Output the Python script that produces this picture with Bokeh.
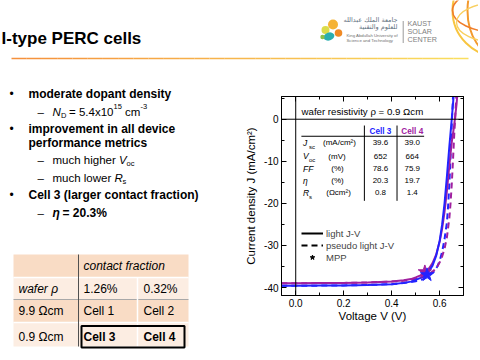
import numpy as np
from bokeh.plotting import figure
from bokeh.models import (Range1d, Label, Span, LinearAxis, SingleIntervalTicker,
                          PrintfTickFormatter, Legend, LegendItem)
from bokeh.layouts import column, row
from bokeh.embed import file_html
from bokeh.resources import INLINE

FONT = "Liberation Sans"
BLUE = "#2323ff"
PURPLE = "#a0209f"
NAN = float("nan")

# ---------------- chart data ----------------
c3_light_v = [-0.06, 0.0, 0.1, 0.2, 0.3, 0.4, 0.45, 0.48, 0.50, 0.52, 0.54, 0.555, 0.57, 0.585, 0.60, 0.61, 0.62, 0.63, 0.64, 0.65, 0.66]
c3_light_j = [-39.6, -39.6, -39.55, -39.5, -39.4, -39.2, -38.9, -38.6, -38.2, -37.7, -37.0, -36.1, -34.8, -32.5, -28.8, -25.0, -20.0, -13.5, -6.5, 0.0, 7.0]

c4_light_v = [-0.06, 0.0, 0.1, 0.2, 0.3, 0.4, 0.45, 0.48, 0.50, 0.52, 0.54, 0.555, 0.57, 0.585, 0.60, 0.61, 0.62, 0.63, 0.64, 0.65, 0.66, 0.67, 0.675]
c4_light_j = [-39.0, -39.0, -38.95, -38.9, -38.8, -38.6, -38.3, -38.0, -37.6, -37.1, -36.3, -35.5, -34.2, -32.2, -29.0, -26.0, -22.0, -17.0, -11.0, -5.5, -1.5, 3.5, 7.0]

c3_pseudo_v = [-0.06, 0.0, 0.1, 0.2, 0.3, 0.4, 0.45, 0.50, 0.53, 0.555, 0.575, 0.59, 0.60, 0.61, 0.62, 0.63, 0.635, 0.64, 0.645, 0.65, 0.655, 0.66]
c3_pseudo_j = [-39.6, -39.6, -39.55, -39.5, -39.4, -39.2, -38.95, -38.5, -38.0, -37.3, -36.3, -35.0, -33.6, -31.5, -28.5, -24.5, -20.5, -15.5, -9.0, -1.5, 5.0, 12.0]

c4_pseudo_v = [-0.06, 0.0, 0.1, 0.2, 0.3, 0.4, 0.45, 0.50, 0.53, 0.555, 0.575, 0.59, 0.60, 0.61, 0.62, 0.63, 0.64, 0.645, 0.65, 0.655, 0.66, 0.665, 0.67]
c4_pseudo_j = [-39.0, -39.0, -38.95, -38.9, -38.8, -38.6, -38.4, -37.9, -37.5, -36.8, -36.0, -35.0, -34.0, -32.6, -30.8, -28.0, -23.5, -20.0, -15.5, -10.0, -4.0, 1.0, 7.0]

mpp_c3_v, mpp_c3_j = [0.547], [-37.0]
mpp_c4_v, mpp_c4_j = [0.538], [-36.3]

stat_symbols = ["J", "V", "FF", "η", "R"]
stat_subs = ["sc", "oc", "", "", "s"]
stat_units = ["(mA/cm²)", "(mV)", "(%)", "(%)", "(Ωcm²)"]
cell_names = ["Cell 3", "Cell 4"]
cell3_vals = ["39.6", "652", "78.6", "20.3", "0.8"]
cell4_vals = ["39.0", "664", "75.9", "19.7", "1.4"]

legend_labels = ["light J-V", "pseudo light J-V", "MPP"]

# slide table
table_header = "contact fraction"
table_rows = [["wafer ρ", "1.26%", "0.32%"],
              ["9.9 Ωcm", "Cell 1", "Cell 2"],
              ["0.9 Ωcm", "Cell 3", "Cell 4"]]


def lab(f, x, y, text, size, style="normal", color="#000000", align="left",
        baseline="middle", font=FONT):
    f.add_layout(Label(x=x, y=y, text=text, text_font_size=f"{size}px",
                       text_font_style=style, text_color=color, text_align=align,
                       text_baseline=baseline, text_font=font))


def slide_fig(w, h, x0, x1, ytop, ybot):
    f = figure(width=w, height=h, x_range=Range1d(x0, x1), y_range=Range1d(ybot, ytop),
               x_axis_type=None, y_axis_type=None, output_backend="svg",
               toolbar_location=None, min_border=0, min_border_left=0,
               min_border_right=0, min_border_top=0, min_border_bottom=0,
               frame_align=False)
    f.grid.visible = False
    f.outline_line_color = None
    f.background_fill_color = "white"
    f.border_fill_color = "white"
    return f

W, H = 478, 358
# ---------------- banner ----------------
banner = slide_fig(W, 63, 0, W, 0, 63)
lab(banner, 1, 37.5, "I-type PERC cells", 17, "bold")

n = 30
xs = np.linspace(11, 468, n + 1)
c0, c1 = np.array([245, 145, 60]), np.array([250, 222, 95])
cols = ["#%02x%02x%02x" % tuple(int(v) for v in (c0 + (c1 - c0) * t)) for t in np.linspace(0, 1, n)]
banner.segment(x0=xs[:-1], y0=58, x1=xs[1:], y1=58, line_color=cols, line_width=1.6)

# logo dots
banner.circle(x=[332.5], y=[24], radius=5, fill_color="#f5b335", line_color=None)
banner.circle(x=[325], y=[29.5], radius=4, fill_color="#dcdc4a", line_color=None)
banner.ellipse(x=[328.5], y=[36], width=11, height=8, angle=0.3, fill_color="#2aaeb0", line_color=None)
banner.circle(x=[338], y=[32.5], radius=3.8, fill_color="#f08a24", line_color=None)
banner.circle(x=[322], y=[36.5], radius=2.2, fill_color="#8cc04a", line_color=None)
lab(banner, 397, 19.5, "جامعة الملك عبدالله", 6.5, color="#607080", align="right", font="DejaVu Sans")
lab(banner, 397, 26, "للعلوم والتقنية", 6.5, color="#607080", align="right", font="DejaVu Sans")
lab(banner, 346, 34.5, "King Abdullah University of", 4.3, color="#707070")
lab(banner, 346, 39.5, "Science and Technology", 4.3, color="#707070")
banner.segment(x0=[402.7], y0=[20.5], x1=[402.7], y1=[42.5], line_color="#9a9a9a", line_width=1)
lab(banner, 407, 23, "KAUST", 7.2, color="#808080")
lab(banner, 407, 31, "SOLAR", 7.2, color="#808080")
lab(banner, 407, 39, "CENTER", 7.2, color="#808080")
# globe
banner.ellipse(x=[498], y=[10], width=92, height=92, fill_color=None, line_color="#f8c540", line_width=2)
banner.ellipse(x=[498], y=[10], width=62, height=92, fill_color=None, line_color="#f39a2e", line_width=2)
banner.ellipse(x=[498], y=[10], width=30, height=92, fill_color=None, line_color="#e8532b", line_width=2)
banner.ellipse(x=[498], y=[10], width=92, height=44, fill_color=None, line_color="#f07d2a", line_width=1.6)
banner.ellipse(x=[498], y=[22], width=84, height=40, fill_color=None, line_color="#f9d060", line_width=1.4)

# ---------------- left side ----------------
LW = 242
left = slide_fig(LW, H - 63, 0, LW, 63, H)
B, R = 12, 11.5
lab(left, 9, 93, "•", B)
lab(left, 28, 93, "moderate dopant density", B, "bold")
lab(left, 37, 111, "–", R)
lab(left, 52, 111, "N", R, "italic")
lab(left, 60.5, 114.5, "D", 7.5)
lab(left, 68.5, 111, "= 5.4x10", R)
lab(left, 113, 106, "15", 7.5)
lab(left, 124.5, 111, "cm", R)
lab(left, 140, 106, "-3", 7.5)
lab(left, 9, 128, "•", B)
lab(left, 28, 128, "improvement in all device", B, "bold")
lab(left, 28, 142, "performance metrics", B, "bold")
lab(left, 37, 159, "–", R)
lab(left, 52, 159, "much higher", R)
lab(left, 118.5, 159, "V", R, "italic")
lab(left, 126, 162.5, "oc", 7.5)
lab(left, 37, 177, "–", R)
lab(left, 52, 177, "much lower", R)
lab(left, 114, 177, "R", R, "italic")
lab(left, 122, 180.5, "s", 7.5)
lab(left, 9, 194, "•", B)
lab(left, 28, 194, "Cell 3 (larger contact fraction)", B, "bold")
lab(left, 37, 212, "–", R)
lab(left, 52, 212, "η", B, "bold italic")
lab(left, 62, 212, "= 20.3%", B, "bold")

# table
TA, TB = "#f9dcc5", "#fcede2"
row_edges = [254, 277, 299, 322, 346]
left.quad(left=[13] * 4, right=[188] * 4, top=row_edges[:-1], bottom=row_edges[1:],
          fill_color=[TA, TB, TA, TB], line_color=None)
left.segment(x0=[13, 13, 13], y0=[277, 299, 322], x1=[188, 188, 188], y1=[277, 299, 322],
             line_color=["white", "#a8a8a8", "white"], line_width=[1.5, 1, 1.5])
left.segment(x0=[78, 137], y0=[254, 277], x1=[78, 137], y1=[346, 346],
             line_color=["#505050", "white"], line_width=[1, 1.5])
left.quad(left=[81], right=[184], top=[325.5], bottom=[347], fill_color=None,
          line_color="black", line_width=2)
TF = 12
lab(left, 83, 265.5, table_header, TF, "italic")
row_ys = [288, 310.5, 336]
col_xs = [18, 83, 143]
for ri, (ry, vals) in enumerate(zip(row_ys, table_rows)):
    for ci, (cx, t) in enumerate(zip(col_xs, vals)):
        style = "normal"
        if ri == 0 and ci == 0:
            style = "italic"
        if ri == 2 and ci > 0:
            style = "bold"
        lab(left, cx, ry, t, TF, style)

# ---------------- chart ----------------
chart = figure(width=W - LW, height=H - 63, x_range=Range1d(-0.0593, 0.699), y_range=Range1d(-41.9, 5.4),
               output_backend="svg", toolbar_location=None, frame_align=False,
               min_border_left=38, min_border_right=W - 463, min_border_top=33, min_border_bottom=H - 295)
chart.grid.visible = False
chart.outline_line_color = "black"
chart.background_fill_color = "white"
chart.border_fill_color = "white"

chart.xaxis.ticker = SingleIntervalTicker(interval=0.2, num_minor_ticks=2)
chart.yaxis.ticker = SingleIntervalTicker(interval=10, num_minor_ticks=2)
chart.xaxis.formatter = PrintfTickFormatter(format="%.1f")
chart.yaxis.formatter = PrintfTickFormatter(format="%d")
chart.xaxis.axis_label = "Voltage V (V)"
chart.yaxis.axis_label = "Current density J (mA/cm²)"
for ax in (chart.xaxis[0], chart.yaxis[0]):
    ax.major_tick_in = 5
    ax.major_tick_out = 0
    ax.minor_tick_in = 3
    ax.minor_tick_out = 0
    ax.axis_line_color = "black"
    ax.major_tick_line_color = "black"
    ax.minor_tick_line_color = "black"
    ax.major_label_text_font = FONT
    ax.major_label_text_font_size = "10px"
    ax.major_label_text_color = "black"
    ax.major_label_standoff = 3
    ax.axis_label_text_font = FONT
    ax.axis_label_text_font_size = "11.5px"
    ax.axis_label_text_font_style = "normal"
    ax.axis_label_text_color = "black"
chart.xaxis.axis_label_standoff = 0
chart.yaxis.axis_label_standoff = 4

for place, tk in (("above", SingleIntervalTicker(interval=0.2, num_minor_ticks=2)),
                  ("right", SingleIntervalTicker(interval=10, num_minor_ticks=2))):
    ax = LinearAxis(ticker=tk, major_tick_in=5, major_tick_out=0, minor_tick_in=3,
                    minor_tick_out=0, major_label_text_font_size="0px", major_label_standoff=0,
                    major_label_text_alpha=0, major_label_text_color=None,
                    axis_line_color="black")
    chart.add_layout(ax, place)

chart.add_layout(Span(location=0, dimension="width", line_color="black", line_width=1))
chart.add_layout(Span(location=0, dimension="height", line_color="black", line_width=1))

chart.line(c3_pseudo_v, c3_pseudo_j, line_color=BLUE, line_width=2, line_dash="6 4")
chart.line(c4_pseudo_v, c4_pseudo_j, line_color=PURPLE, line_width=2, line_dash="6 4")
chart.line(c4_light_v, c4_light_j, line_color=PURPLE, line_width=2)
chart.line(c3_light_v, c3_light_j, line_color=BLUE, line_width=2)
chart.scatter(mpp_c4_v, mpp_c4_j, marker="star", size=14, color=PURPLE)
chart.scatter(mpp_c3_v, mpp_c3_j, marker="star", size=14, color=BLUE)

# annotation box
lab(chart, 0.024, 1.8, "wafer resistivity ρ = 0.9 Ωcm", 9.7)
chart.segment(x0=[0.0236], y0=[-4.05], x1=[0.535], y1=[-4.05], line_color="black", line_width=1)
chart.segment(x0=[0.286, 0.422], y0=[-1.5, -1.5], x1=[0.286, 0.422], y1=[-19.4, -19.4],
              line_color="black", line_width=1)
val_x = [0.353, 0.4855]
lab(chart, val_x[0], -2.9, cell_names[0], 8.2, "bold", color=BLUE, align="center")
lab(chart, val_x[1], -2.9, cell_names[1], 8.2, "bold", color=PURPLE, align="center")
row_j = [-5.57, -8.81, -11.81, -14.6, -17.52]
unit_x = [0.1137, 0.1357, 0.148, 0.148, 0.127]
for i in range(5):
    lab(chart, 0.0307, row_j[i], stat_symbols[i], 8.5, "italic")
    if stat_subs[i]:
        lab(chart, 0.055, row_j[i] - 1.0, stat_subs[i], 6)
    lab(chart, unit_x[i], row_j[i], stat_units[i], 8)
    lab(chart, val_x[0], row_j[i], cell3_vals[i], 8, align="center")
    lab(chart, val_x[1], row_j[i], cell4_vals[i], 8, align="center")

r1 = chart.line([NAN, NAN], [NAN, NAN], line_color="black", line_width=2)
r2 = chart.line([NAN, NAN], [NAN, NAN], line_color="black", line_width=2, line_dash="6 4")
r3 = chart.scatter([NAN], [NAN], marker="star", size=13, color="black")
legend = Legend(items=[LegendItem(label=legend_labels[0], renderers=[r1]),
                       LegendItem(label=legend_labels[1], renderers=[r2]),
                       LegendItem(label=legend_labels[2], renderers=[r3])],
                location=(20, 32), padding=0, margin=0, spacing=0, label_standoff=3,
                glyph_width=22, glyph_height=12, label_height=12,
                label_text_font=FONT, label_text_font_size="9.5px",
                border_line_color=None, background_fill_alpha=0)
chart.add_layout(legend)

layout = column(banner, row(left, chart))
open("out.html", "w").write(file_html(layout, INLINE))
